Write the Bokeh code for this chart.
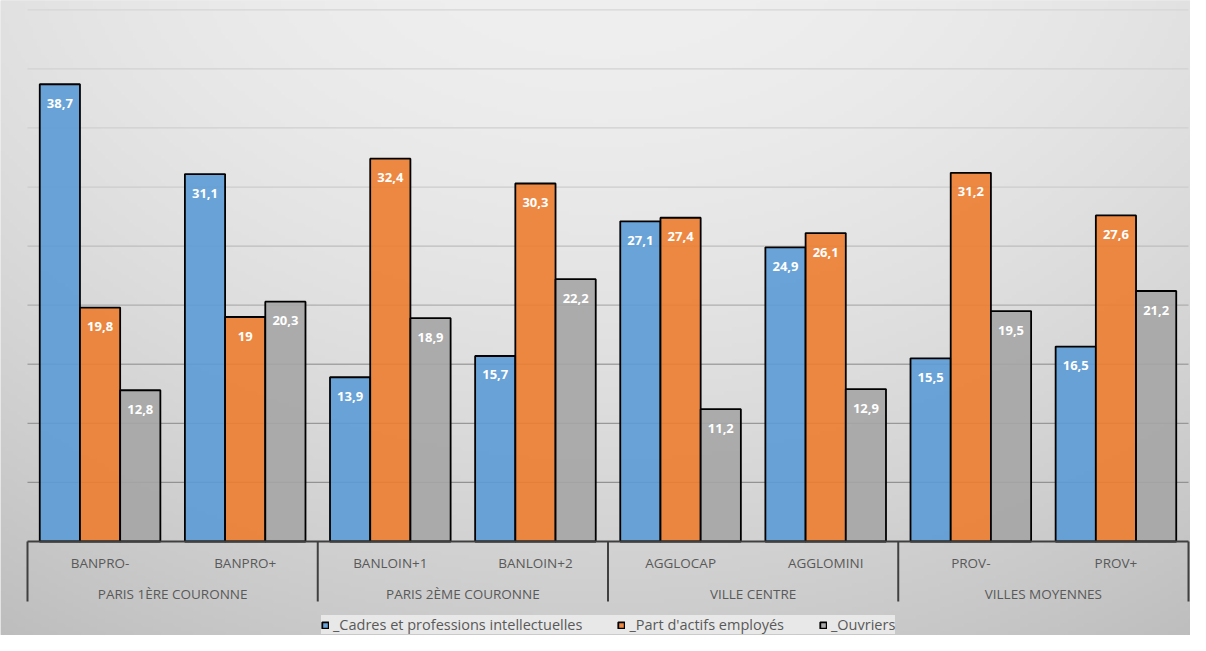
import numpy as np
from bokeh.plotting import figure
from bokeh.models import Range1d, ColumnDataSource, Legend, LegendItem
from bokeh.core.properties import value
from bokeh.embed import file_html
from bokeh.resources import INLINE

# ---------------- data ----------------
groups = ["PARIS 1ÈRE COURONNE", "PARIS 2ÈME COURONNE", "VILLE CENTRE", "VILLES MOYENNES"]
group_sizes = [2, 2, 2, 2]
categories = ["BANPRO-", "BANPRO+", "BANLOIN+1", "BANLOIN+2",
              "AGGLOCAP", "AGGLOMINI", "PROV-", "PROV+"]
series_names = ["_Cadres et professions intellectuelles",
                "_Part d'actifs employés",
                "_Ouvriers"]
cadres = [38.7, 31.1, 13.9, 15.7, 27.1, 24.9, 15.5, 16.5]
employes = [19.8, 19.0, 32.4, 30.3, 27.4, 26.1, 31.2, 27.6]
ouvriers = [12.8, 20.3, 18.9, 22.2, 11.2, 12.9, 19.5, 21.2]
grid_ticks = [5, 10, 15, 20, 25, 30, 35, 40, 45]

# ---------------- layout ----------------
W, H = 1190, 635
n = len(categories)
left_pad_px, right_pad_px = 27, 2
cat_px = (W - left_pad_px - right_pad_px) / n
top_grid_px = 9.3            # position of the top grid line (45)
baseline_px = 541.0          # position of 0, from top of canvas
px_per_unit = (baseline_px - top_grid_px) / grid_ticks[-1]

x_range = Range1d(-left_pad_px / cat_px, n + right_pad_px / cat_px)
y_range = Range1d(-(H - baseline_px) / px_per_unit, baseline_px / px_per_unit)

p = figure(width=W, height=H, x_range=x_range, y_range=y_range,
           output_backend="svg", toolbar_location=None,
           x_axis_location=None, y_axis_location=None,
           min_border=0, min_border_left=0, min_border_right=0,
           min_border_top=0, min_border_bottom=0)
p.grid.visible = False
p.outline_line_color = None
p.background_fill_color = "#e2e2e2"
p.border_fill_color = "#e2e2e2"

# ---------------- gradient background ----------------
gw, gh = W // 4 + 1, H // 4 + 1
xs = (np.arange(gw) + 0.5) * 4
ys = (np.arange(gh) + 0.5) * 4   # from top
u = (xs[None, :] - 600) / 600
w = ys[:, None] / 640
g = 239 - 14 * u ** 2 - 36 * w ** 1.5
g = np.clip(g, 0, 255).astype(np.uint32)
img = (255 << 24) | (g << 16) | (g << 8) | g
img = np.ascontiguousarray(img[::-1, :]).astype(np.uint32)   # row 0 at bottom
p.image_rgba(image=[img], x=x_range.start, y=y_range.start,
             dw=(x_range.end - x_range.start) * gw * 4 / W,
             dh=(y_range.end - y_range.start) * gh * 4 / H)

# ---------------- grid lines (gradient tone) ----------------
grid_tone = np.interp(grid_ticks, [5, 10, 20, 30, 45], [0x92, 0x98, 0xae, 0xcc, 0xd6]).astype(int)
grid_colors = ["#%02x%02x%02x" % (t, t, t) for t in grid_tone]
p.segment(x0=[0] * len(grid_ticks), x1=[n] * len(grid_ticks),
          y0=grid_ticks, y1=grid_ticks, line_color=grid_colors, line_width=1.3)

# ---------------- bars ----------------
centers = np.arange(n) + 0.5
bar_w = 0.277
offsets = [-bar_w, 0.0, bar_w]
colors = ["#5b9bd5", "#ed7d31", "#a5a5a5"]
series = [cadres, employes, ouvriers]

def fmt(v):
    return ("%g" % v).replace(".", ",")

renderers = []
for vals, off, col in zip(series, offsets, colors):
    src = ColumnDataSource(dict(x=centers + off, top=vals,
                                lab=[fmt(v) for v in vals]))
    r = p.vbar(x="x", top="top", bottom=0, width=bar_w, source=src,
               fill_color=col, fill_alpha=0.9, line_color="#000000",
               line_width=1.8)
    renderers.append(r)
    p.text(x="x", y="top", text="lab", source=src, y_offset=19,
           text_align="center", text_baseline="middle",
           text_font=value("Open Sans"), text_font_size=value("13px"),
           text_font_style="bold", text_color="#ffffff")

# ---------------- category axis ----------------
bounds = np.concatenate([[0], np.cumsum(group_sizes)])
sep_depth = 60 / px_per_unit
p.segment(x0=[0], x1=[n], y0=[0], y1=[0], line_color="#404040", line_width=2)
p.segment(x0=bounds, x1=bounds, y0=[0] * len(bounds), y1=[-sep_depth] * len(bounds),
          line_color="#404040", line_width=2)

p.text(x=centers, y=[0] * n, text=categories, y_offset=21.5,
       text_align="center", text_baseline="middle",
       text_font=value("Open Sans"), text_font_size=value("13.5px"),
       text_color="#595959")
group_centers = (bounds[:-1] + bounds[1:]) / 2
p.text(x=group_centers, y=[0] * len(groups), text=groups, y_offset=52,
       text_align="center", text_baseline="middle",
       text_font=value("Open Sans"), text_font_size=value("13.5px"),
       text_color="#595959")

# ---------------- legend ----------------
legend = Legend(items=[LegendItem(label=nm, renderers=[r]) for nm, r in zip(series_names, renderers)],
                orientation="horizontal", location=(321, 1),
                background_fill_color="#e8e8e8", background_fill_alpha=1.0,
                border_line_color=None, padding=7, margin=0,
                glyph_width=8, glyph_height=8, label_height=15,
                label_standoff=4, spacing=35,
                label_text_font="Open Sans", label_text_font_size="14.5px",
                label_text_color="#595959")
p.add_layout(legend)

open("out.html", "w").write(file_html(p, INLINE))
